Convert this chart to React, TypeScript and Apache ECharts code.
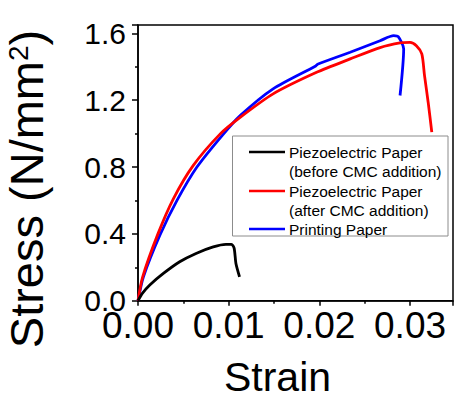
import React, { useEffect, useRef } from "react";
import * as echarts from "echarts";

// ---- data ----
const xTickLabels = ["0.00", "0.01", "0.02", "0.03"];
const yTickLabels = ["0.0", "0.4", "0.8", "1.2", "1.6"];
const xAxisTitle = "Strain";
const yAxisTitle = "Stress (N/mm";
const yAxisTitleSup = "2";

const seriesNames = [
  "Piezoelectric Paper\n(before CMC addition)",
  "Piezoelectric Paper\n(after CMC addition)",
  "Printing Paper",
];
const seriesColors = ["#000000", "#ff0000", "#0000ff"];

const beforeCMC: [number, number][] = [
  [0, 0], [0.0005, 0.045], [0.0013, 0.094], [0.0028, 0.163], [0.0046, 0.233],
  [0.0064, 0.283], [0.0083, 0.322], [0.0097, 0.337], [0.0103, 0.337],
  [0.0106, 0.315], [0.0108, 0.223], [0.0112, 0.143],
];

const afterCMC: [number, number][] = [
  [0, 0], [0.0005, 0.14], [0.0022, 0.40], [0.0039, 0.61], [0.0061, 0.81],
  [0.0091, 1.0], [0.0113, 1.099], [0.0149, 1.238], [0.0197, 1.367],
  [0.0234, 1.447], [0.0267, 1.515], [0.0289, 1.543], [0.03, 1.546],
  [0.0307, 1.526], [0.0313, 1.477], [0.0316, 1.347], [0.032, 1.188],
  [0.0324, 1.009],
];

const printingPaper: [number, number][] = [
  [0, 0], [0.0006, 0.143], [0.0024, 0.39], [0.0043, 0.60], [0.0065, 0.80],
  [0.0093, 0.99], [0.0113, 1.109], [0.0149, 1.268], [0.0196, 1.405],
  [0.0198, 1.415], [0.0234, 1.487], [0.0267, 1.556], [0.0282, 1.586],
  [0.0287, 1.58], [0.0293, 1.507], [0.0289, 1.228],
];

const seriesData = [beforeCMC, afterCMC, printingPaper];

const FONT = "Arial, 'Liberation Sans', Helvetica, sans-serif";

export default function App() {
  const ref = useRef<HTMLDivElement>(null);

  useEffect(() => {
    if (!ref.current) return;
    const chart = echarts.init(ref.current, null, { renderer: "svg" });

    const legendX = 232.5;
    const legendY = 136;
    const legendRows = [152, 191, 229];
    const lineH = 19.5;

    const legendGraphics: any[] = [
      {
        type: "rect",
        shape: { x: legendX, y: legendY, width: 215.5, height: 100 },
        style: { fill: "#ffffff", stroke: "#8c8c8c", lineWidth: 1 },
        z: 50,
      },
    ];
    seriesNames.forEach((name, i) => {
      legendGraphics.push({
        type: "line",
        shape: { x1: 249, y1: legendRows[i], x2: 285, y2: legendRows[i] },
        style: { stroke: seriesColors[i], lineWidth: 2.5 },
        z: 51,
      });
      legendGraphics.push({
        type: "text",
        x: 289,
        y: legendRows[i] - lineH / 2,
        style: {
          text: name,
          fontFamily: FONT,
          fontSize: 15.5,
          lineHeight: lineH,
          fill: "#000",
          align: "left",
          verticalAlign: "top",
        },
        z: 51,
      });
    });

    const option: any = {
      animation: false,
      grid: {
        left: 138,
        top: 25,
        right: 1,
        bottom: 98.3,
        show: true,
        borderColor: "#000",
        borderWidth: 1.5,
        backgroundColor: "transparent",
      },
      xAxis: {
        type: "value",
        min: 0,
        max: 0.03474,
        interval: 0.01,
        axisLine: { show: true, lineStyle: { color: "#000", width: 1.5 } },
        axisTick: { show: true, inside: false, length: 5, lineStyle: { color: "#000", width: 1.5 } },
        minorTick: { show: true, splitNumber: 2, length: 3, lineStyle: { color: "#000", width: 1.5 } },
        splitLine: { show: false },
        axisLabel: {
          color: "#000",
          fontFamily: FONT,
          fontSize: 37,
          margin: 6,
          showMaxLabel: false,
          formatter: (v: number) => {
            const idx = Math.round(v / 0.01);
            return Math.abs(v - idx * 0.01) < 1e-9 && xTickLabels[idx] ? xTickLabels[idx] : "";
          },
        },
      },
      yAxis: {
        type: "value",
        min: 0,
        max: 1.65,
        interval: 0.4,
        axisLine: { show: true, lineStyle: { color: "#000", width: 1.5 } },
        axisTick: { show: true, inside: false, length: 6, lineStyle: { color: "#000", width: 1.5 } },
        minorTick: { show: true, splitNumber: 2, length: 3, lineStyle: { color: "#000", width: 1.5 } },
        splitLine: { show: false },
        axisLabel: {
          color: "#000",
          fontFamily: FONT,
          fontSize: 30,
          margin: 12,
          showMaxLabel: false,
          formatter: (v: number) => {
            const idx = Math.round(v / 0.4);
            return Math.abs(v - idx * 0.4) < 1e-9 && yTickLabels[idx] ? yTickLabels[idx] : "";
          },
        },
      },
      series: seriesData.map((d, i) => ({
        name: seriesNames[i],
        type: "line",
        data: d,
        showSymbol: false,
        symbol: "none",
        smooth: 0.25,
        lineStyle: { color: seriesColors[i], width: 2.8 },
        z: 3 - i + 2,
      })),
      graphic: [
        {
          type: "text",
          x: 277.5,
          y: 377,
          style: {
            text: xAxisTitle,
            fontFamily: FONT,
            fontSize: 41,
            lineHeight: 32,
            fill: "#000",
            align: "center",
            verticalAlign: "middle",
          },
        },
        {
          type: "text",
          x: 27,
          y: 189,
          rotation: Math.PI / 2,
          style: {
            text: `{a|${yAxisTitle}}{s|${yAxisTitleSup}}{a|)}`,
            fontFamily: FONT,
            fontSize: 47,
            fill: "#000",
            align: "center",
            verticalAlign: "middle",
            rich: {
              a: { fontFamily: FONT, fontSize: 47, fill: "#000", lineHeight: 46, verticalAlign: "bottom" },
              s: { fontFamily: FONT, fontSize: 28, fill: "#000", lineHeight: 46, verticalAlign: "top" },
            },
          },
        },
        ...legendGraphics,
      ],
    };

    chart.setOption(option);
    return () => chart.dispose();
  }, []);

  return (
    <div
      ref={ref}
      style={{ position: "fixed", left: 0, top: 0, width: 454, height: 399, background: "#fff" }}
    />
  );
}
